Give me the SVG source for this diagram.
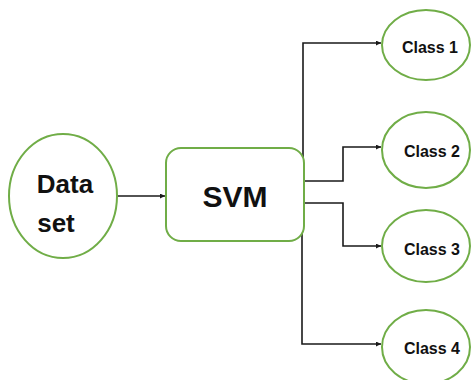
<svg xmlns="http://www.w3.org/2000/svg" width="472" height="380" viewBox="0 0 472 380">
  <style>
    .node { fill: #ffffff; stroke: #70AD47; stroke-width: 2; }
    .edge { fill: none; stroke: #1a1a1a; stroke-width: 1.6; }
    .lbl { font-family: "Liberation Sans", Arial, sans-serif; font-weight: bold; fill: #111111; text-anchor: middle; }
  </style>
  <defs>
    <marker id="arrow" viewBox="0 0 8 8" refX="8" refY="4" markerWidth="5" markerHeight="5" orient="auto" markerUnits="userSpaceOnUse">
      <path d="M0,0 L8,4 L0,8 Z" fill="#1a1a1a"/>
    </marker>
  </defs>
  <rect width="472" height="380" fill="#ffffff"/>

  <g id="connectors">
    <path class="edge" d="M117,196 H165" marker-end="url(#arrow)"/>
    <path class="edge" d="M303,160 V43 H381" marker-end="url(#arrow)"/>
    <path class="edge" d="M303,181 H343 V147 H381" marker-end="url(#arrow)"/>
    <path class="edge" d="M303,203 H343 V246 H381" marker-end="url(#arrow)"/>
    <path class="edge" d="M302,226 V344 H381" marker-end="url(#arrow)"/>
  </g>

  <g id="dataset">
    <ellipse class="node" cx="63" cy="196" rx="54" ry="62"/>
    <text class="lbl" x="65" y="193" font-size="26">Data</text>
    <text class="lbl" x="56" y="232" font-size="26">set</text>
  </g>

  <g id="svm">
    <rect class="node" x="166" y="148" width="138" height="93" rx="15"/>
    <text class="lbl" x="235" y="207" font-size="30">SVM</text>
  </g>

  <g id="class1">
    <ellipse class="node" cx="426" cy="45" rx="44" ry="35"/>
    <text class="lbl" x="430" y="53" font-size="16">Class 1</text>
  </g>

  <g id="class2">
    <ellipse class="node" cx="426" cy="150" rx="44" ry="38"/>
    <text class="lbl" x="432" y="157" font-size="16">Class 2</text>
  </g>

  <g id="class3">
    <ellipse class="node" cx="426" cy="246" rx="44" ry="36"/>
    <text class="lbl" x="432" y="255" font-size="16">Class 3</text>
  </g>

  <g id="class4">
    <ellipse class="node" cx="426" cy="347" rx="44" ry="37"/>
    <text class="lbl" x="432" y="354" font-size="16">Class 4</text>
  </g>
</svg>
